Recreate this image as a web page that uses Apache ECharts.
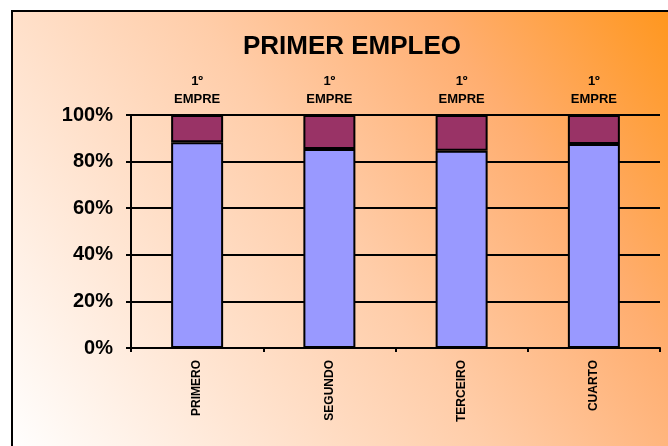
<!DOCTYPE html>
<html>
<head>
<meta charset="utf-8">
<script src="https://cdn.jsdelivr.net/npm/echarts@6/dist/echarts.min.js"></script>
<style>
  html, body { margin: 0; padding: 0; background: #fff; }
  #chart { width: 668px; height: 446px; }
</style>
</head>
<body>
<div id="chart"></div>
<script>
var categorias = ['PRIMERO', 'SEGUNDO', 'TERCEIRO', 'CUARTO'];
var empleo = [88.3, 85.4, 84.7, 87.6];
var primerEmpleo = [11.7, 14.6, 15.3, 12.4];
var yTicks = [0, 20, 40, 60, 80, 100];

var dom = document.getElementById('chart');
var myChart = echarts.init(dom);

var fuente = 'Liberation Sans, Arial, sans-serif';

var option = {
    animation: false,
    textStyle: { fontFamily: fuente },
    title: {
        text: 'PRIMER EMPLEO',
        left: 347,
        top: 29,
        textAlign: 'center',
        textStyle: { fontSize: 26, fontWeight: 'bold', color: '#000', fontFamily: fuente }
    },
    graphic: [{
        type: 'rect',
        z: -100,
        shape: { x: 12, y: 11, width: 662, height: 442 },
        style: {
            fill: new echarts.graphic.LinearGradient(0, 1, 1, 0, [
                { offset: 0, color: '#ffffff' },
                { offset: 0.5, color: '#ffcda9' },
                { offset: 0.75, color: '#ffae70' },
                { offset: 1, color: '#ff961c' }
            ]),
            stroke: '#000',
            lineWidth: 2
        }
    }],
    grid: {
        left: 131,
        right: 8,
        top: 115,
        bottom: 98
    },
    xAxis: {
        type: 'category',
        data: categorias,
        axisLine: { lineStyle: { color: '#000', width: 2 } },
        axisTick: { show: true, length: 4, lineStyle: { color: '#000', width: 2 } },
        axisLabel: {
            rotate: 90,
            margin: 12,
            fontSize: 12,
            fontWeight: 'bold',
            color: '#000'
        }
    },
    yAxis: {
        type: 'value',
        min: yTicks[0],
        max: yTicks[yTicks.length - 1],
        interval: 20,
        axisLine: { show: true, lineStyle: { color: '#000', width: 2 } },
        axisTick: { show: true, length: 5, lineStyle: { color: '#000', width: 2 } },
        splitLine: { lineStyle: { color: '#000', width: 2 } },
        axisLabel: {
            margin: 18,
            fontSize: 20,
            fontWeight: 'bold',
            color: '#000',
            formatter: '{value}%'
        }
    },
    series: [
        {
            name: 'Empleo',
            type: 'bar',
            stack: 'total',
            barWidth: 52,
            data: empleo,
            itemStyle: { color: '#9999ff', borderColor: '#000', borderWidth: 2 }
        },
        {
            name: '1º EMPRE',
            type: 'bar',
            stack: 'total',
            barWidth: 52,
            data: primerEmpleo,
            itemStyle: { color: '#993366', borderColor: '#000', borderWidth: 2 },
            label: {
                show: true,
                position: 'top',
                distance: 7,
                formatter: '1º\nEMPRE',
                fontSize: 13,
                lineHeight: 18,
                fontWeight: 'bold',
                color: '#000'
            }
        }
    ]
};

myChart.setOption(option, true);
</script>
</body>
</html>
